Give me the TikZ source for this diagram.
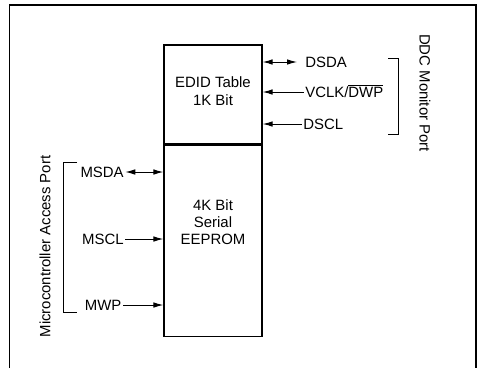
\documentclass[tikz,border=0pt]{standalone}
\usepackage{fontspec}
\setmainfont{Liberation Sans}
\usetikzlibrary{arrows.meta}
\tikzset{
  blockbox/.style={draw, line width=1pt, inner sep=0pt, minimum width=73.5pt},
  siglabel/.style={inner sep=1pt, text height=8pt, text depth=0pt},
  inarrow/.style={line width=.75pt, -{Latex[length=7.5pt,width=4.2pt]}},
  biarrow/.style={line width=.75pt, {Latex[length=7.5pt,width=4.2pt]}-{Latex[length=7.5pt,width=4.2pt]}}
}
\begin{document}
\begin{tikzpicture}[x=.75pt,y=-.75pt, font=\fontsize{11.2}{13}\selectfont, line cap=butt, line join=miter]
\useasboundingbox (0,0) rectangle (477,368);
% outer frame, open at the bottom
\draw[line width=1.1pt] (9.5,368) -- (9.5,5) -- (476,5) -- (476,368);

% memory blocks
\node[blockbox, minimum height=74.25pt] (edid) at (213,94.5) {};
\node[blockbox, minimum height=143.25pt, anchor=north] (eeprom) at (edid.south) {};
\node[align=center] (ediddesc) at (213,91) {EDID Table\\1K Bit};
\node[align=center] (eepromdesc) at (213,222) {4K Bit\\Serial\\EEPROM};

% DDC monitor side
\node[siglabel, anchor=west] (dsda) at (303.7,62) {DSDA};
\node[siglabel, anchor=west] (vclk) at (303.7,92) {VCLK/$\overline{\mbox{DWP}}$};
\node[siglabel, anchor=west] (dscl) at (301.7,124) {DSCL};
\draw[biarrow, shorten >=5pt] (edid.east |- dsda.west) -- (dsda.west);
\draw[inarrow] (vclk.west) -- (edid.east |- vclk.west);
\draw[inarrow] (dscl.west) -- (edid.east |- dscl.west);
\draw[line width=.75pt] (388,58) -- (398.3,58) -- (398.3,134) -- (388,134);
\node[siglabel, rotate=-90] (ddcport) at (425,93) {DDC Monitor Port};

% microcontroller side
\node[siglabel, anchor=east] (msda) at (125.3,172) {MSDA};
\node[siglabel, anchor=east] (mscl) at (125.3,239) {MSCL};
\node[siglabel, anchor=east] (mwp) at (123,305) {MWP};
\draw[biarrow] (msda.east) -- (eeprom.west |- msda.east);
\draw[inarrow] (mscl.east) -- (eeprom.west |- mscl.east);
\draw[inarrow] (mwp.east) -- (eeprom.west |- mwp.east);
\draw[line width=.75pt] (77,162) -- (63,162) -- (63,312) -- (77,312);
\node[siglabel, rotate=90] (mcuport) at (45,246.5) {Microcontroller Access Port};
\end{tikzpicture}
\end{document}
